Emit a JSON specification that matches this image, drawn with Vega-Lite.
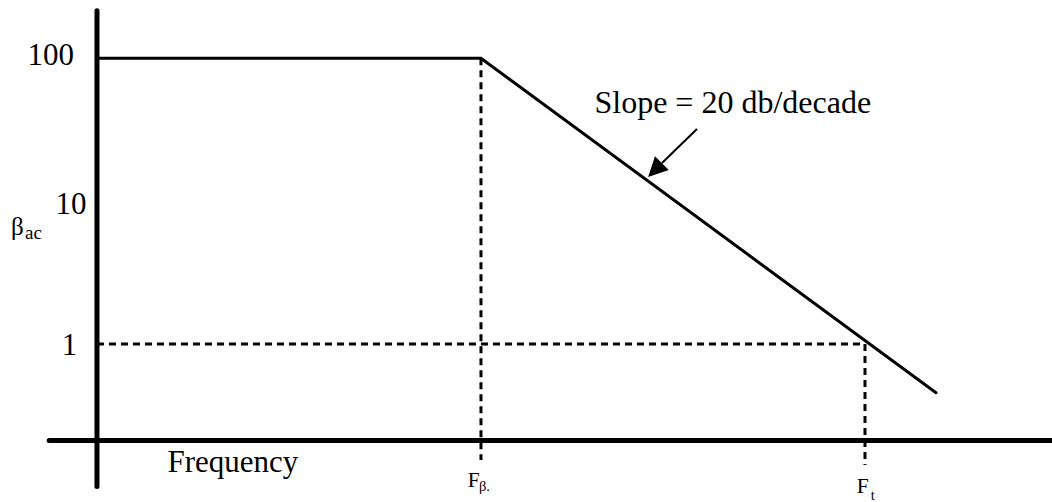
{
  "$schema": "https://vega.github.io/schema/vega-lite/v6.json",
  "width": 1052,
  "height": 502,
  "padding": 0,
  "autosize": {"type": "none"},
  "background": "white",
  "config": {"view": {"stroke": null}},
  "encoding": {
    "x": {"field": "f", "type": "quantitative", "scale": {"type": "log", "domain": [3.1257, 941800], "nice": false}, "axis": null},
    "y": {"field": "g", "type": "quantitative", "scale": {"type": "log", "domain": [0.0783, 255.9], "nice": false}, "axis": null}
  },
  "layer": [
    {
      "data": {"values": [
        {"f": 1000, "g": 100, "f2": 1000, "g2": 0.154},
        {"f": 100000, "g": 1, "f2": 100000, "g2": 0.142},
        {"f": 10, "g": 1, "f2": 100000, "g2": 1}
      ]},
      "mark": {"type": "rule", "color": "black", "strokeWidth": 3, "strokeDash": [7, 5]},
      "encoding": {"x2": {"field": "f2"}, "y2": {"field": "g2"}}
    },
    {
      "data": {"values": [
        {"f": 10, "g": 215.0, "f2": 10, "g2": 0.1006},
        {"f": 5.637, "g": 0.2111, "f2": 941800, "g2": 0.2111}
      ]},
      "mark": {"type": "rule", "color": "black", "strokeWidth": 5, "strokeCap": "round"},
      "encoding": {"x2": {"field": "f2"}, "y2": {"field": "g2"}}
    },
    {
      "data": {"values": [
        {"f": 10, "g": 100, "o": 1},
        {"f": 1000, "g": 100, "o": 2},
        {"f": 234400, "g": 0.456, "o": 3}
      ]},
      "mark": {"type": "line", "color": "black", "strokeWidth": 3, "strokeCap": "round"},
      "encoding": {"order": {"field": "o", "type": "quantitative"}}
    },
    {
      "data": {"values": [
        {"f": 13335, "g": 31.99, "f2": 8764, "g2": 18.5}
      ]},
      "mark": {"type": "rule", "color": "black", "strokeWidth": 2},
      "encoding": {"x2": {"field": "f2"}, "y2": {"field": "g2"}}
    },
    {
      "data": {"values": [{"f": 8058, "g": 16.52}]},
      "mark": {"type": "point", "shape": "M0,-1L1,1L-1,1Z", "size": 380, "angle": 225, "filled": true, "color": "black", "opacity": 1, "strokeWidth": 0}
    },
    {
      "data": {"values": [
        {"f": 5.745, "g": 89.8, "t": "100"},
        {"f": 7.319, "g": 8.131, "t": "10"},
        {"f": 7.19, "g": 0.8375, "t": "1"}
      ]},
      "mark": {"type": "text", "align": "center", "baseline": "alphabetic", "font": "Liberation Serif", "fontSize": 31, "color": "black"},
      "encoding": {"text": {"field": "t", "type": "nominal"}}
    },
    {
      "data": {"values": [
        {"f": 3900, "g": 41.6, "t": "Slope = 20 db/decade"}
      ]},
      "mark": {"type": "text", "align": "left", "baseline": "alphabetic", "font": "Liberation Serif", "fontSize": 32, "color": "black"},
      "encoding": {"text": {"field": "t", "type": "nominal"}}
    },
    {
      "data": {"values": [
        {"f": 23.29, "g": 0.1277, "t": "Frequency"}
      ]},
      "mark": {"type": "text", "align": "left", "baseline": "alphabetic", "font": "Liberation Serif", "fontSize": 31, "color": "black"},
      "encoding": {"text": {"field": "t", "type": "nominal"}}
    },
    {
      "data": {"values": [{"f": 3.565, "g": 5.794, "t": "β"}]},
      "mark": {"type": "text", "align": "left", "baseline": "alphabetic", "font": "Liberation Serif", "fontSize": 25, "color": "black"},
      "encoding": {"text": {"field": "t", "type": "nominal"}}
    },
    {
      "data": {"values": [{"f": 4.217, "g": 5.433, "t": "ac"}]},
      "mark": {"type": "text", "align": "left", "baseline": "alphabetic", "font": "Liberation Serif", "fontSize": 19, "color": "black"},
      "encoding": {"text": {"field": "t", "type": "nominal"}}
    },
    {
      "data": {"values": [
        {"f": 852.6, "g": 0.0997, "t": "F"},
        {"f": 90530, "g": 0.0905, "t": "F"}
      ]},
      "mark": {"type": "text", "align": "left", "baseline": "alphabetic", "font": "Liberation Serif", "fontSize": 21.5, "color": "black"},
      "encoding": {"text": {"field": "t", "type": "nominal"}}
    },
    {
      "data": {"values": [
        {"f": 976.3, "g": 0.0935, "t": "β."},
        {"f": 107070, "g": 0.0809, "t": "t"}
      ]},
      "mark": {"type": "text", "align": "left", "baseline": "alphabetic", "font": "Liberation Serif", "fontSize": 14.5, "color": "black"},
      "encoding": {"text": {"field": "t", "type": "nominal"}}
    }
  ]
}
